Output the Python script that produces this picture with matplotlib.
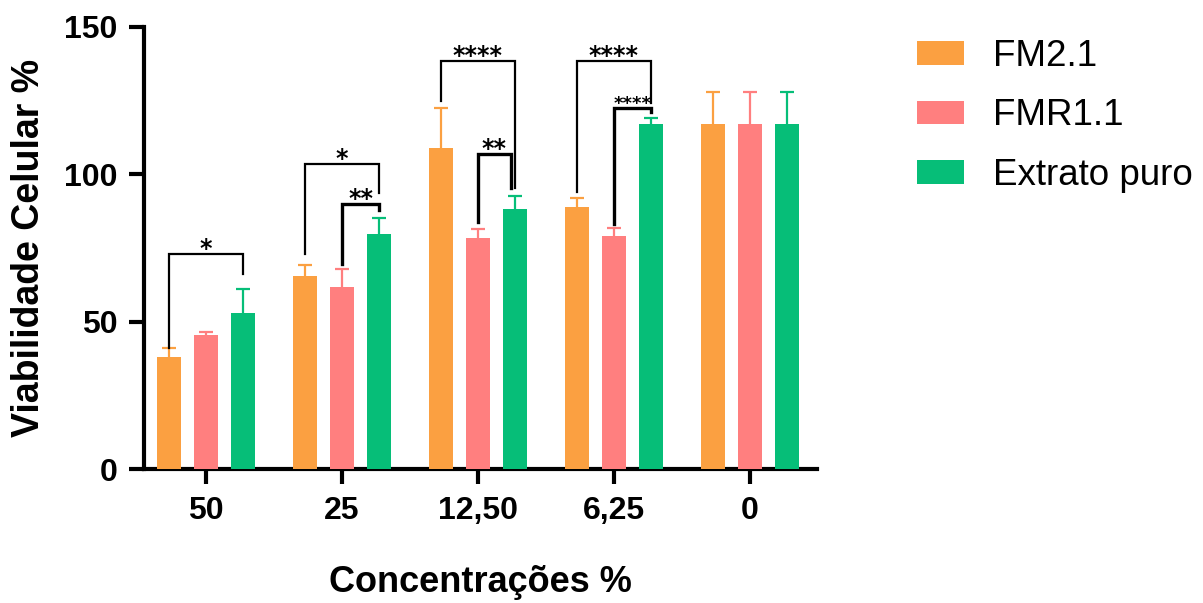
import numpy as np
import matplotlib
matplotlib.use('Agg')
import matplotlib.pyplot as plt

plt.rcParams['font.family'] = ['Liberation Sans', 'DejaVu Sans']

# Viabilidade celular por concentração (média e erro superior)
concentracoes = ['50', '25', '12,50', '6,25', '0']
series = ['FM2.1', 'FMR1.1', 'Extrato puro']
fm21 = [38.0, 65.4, 108.7, 88.9, 117.1]
fm21_err = [3.0, 3.9, 13.6, 3.1, 10.6]
fmr11 = [45.4, 61.9, 78.2, 79.0, 117.1]
fmr11_err = [1.0, 5.8, 3.2, 2.6, 10.6]
extrato = [53.1, 79.6, 88.1, 116.9, 117.1]
extrato_err = [7.9, 5.4, 4.4, 2.0, 10.6]

# comparações: (grupo, barra a, barra b, altura, fim perna a, fim perna b, rótulo)
comparacoes = [
    (0, 0, 2, 72.9, 41.0, 66.3, '*'),
    (1, 0, 2, 103.3, 72.9, 93.7, '*'),
    (1, 1, 2, 89.9, 69.4, 87.8, '**'),
    (2, 0, 2, 138.4, 124.8, 95.4, '****'),
    (2, 1, 2, 106.7, 83.7, 95.4, '**'),
    (3, 0, 2, 138.4, 94.0, 124.0, '****'),
    (3, 1, 2, 122.3, 83.0, 121.1, '****'),
]

cores = ['#FBA041', '#FF7F7F', '#06BE78']
valores = [fm21, fmr11, extrato]
erros = [fm21_err, fmr11_err, extrato_err]

fig = plt.figure(figsize=(12.03, 6.03), dpi=100)
ax = fig.add_axes([0.1197, 0.2217, 0.5594, 0.7343])

x = np.arange(len(concentracoes))
desloc = 0.2735
largura = 0.179

for k in range(3):
    pos = x + (k - 1) * desloc
    # metade inferior da barra de erro fica escondida atrás da barra
    ax.errorbar(pos, valores[k], yerr=erros[k], fmt='none',
                ecolor=cores[k], elinewidth=1.6, capsize=4.8, capthick=1.6, zorder=2)
    ax.bar(pos, valores[k], width=largura, color=cores[k], label=series[k], zorder=3)

# colchetes de significância
for g, a, b, topo, fim_a, fim_b, rot in comparacoes:
    xa = g + (a - 1) * desloc
    xb = g + (b - 1) * desloc
    interno = a == 1
    if interno and g == 2:
        xb -= 0.033
    lw = 2.4 if interno else 1.6
    ax.plot([xa, xa, xb, xb], [fim_a, topo, topo, fim_b], color='black', lw=lw,
            solid_joinstyle='miter', zorder=4)
    pequeno = interno and g == 3
    fs = 13 if pequeno else 17
    ax.text((xa + xb) / 2, topo - (0.2 if pequeno else 0.6), rot, ha='center',
            va='baseline', fontsize=fs, fontweight='bold', family='DejaVu Sans', zorder=5)

ax.set_xlim(-0.456, 4.493)
ax.set_ylim(0, 150)
ax.set_yticks([0, 50, 100, 150])
ax.set_xticks(x)
ax.set_xticklabels(concentracoes)

for lado in ['top', 'right']:
    ax.spines[lado].set_visible(False)
for lado in ['left', 'bottom']:
    ax.spines[lado].set_linewidth(3)
ax.tick_params(axis='both', width=3, length=11, labelsize=23, pad=8)
for t in ax.get_xticklabels() + ax.get_yticklabels():
    t.set_fontweight('bold')

ax.set_ylabel('Viabilidade Celular %', fontsize=27, fontweight='bold', labelpad=12)
ax.set_xlabel('Concentrações %', fontsize=26, fontweight='bold', labelpad=28)

ax.legend(loc='upper left', bbox_to_anchor=(0.762, 0.935), bbox_transform=fig.transFigure,
          frameon=False, fontsize=26.5, handlelength=1.28, handleheight=0.62,
          handletextpad=0.78, labelspacing=0.66, borderpad=0, borderaxespad=0)

fig.savefig('out.png', dpi=100)
